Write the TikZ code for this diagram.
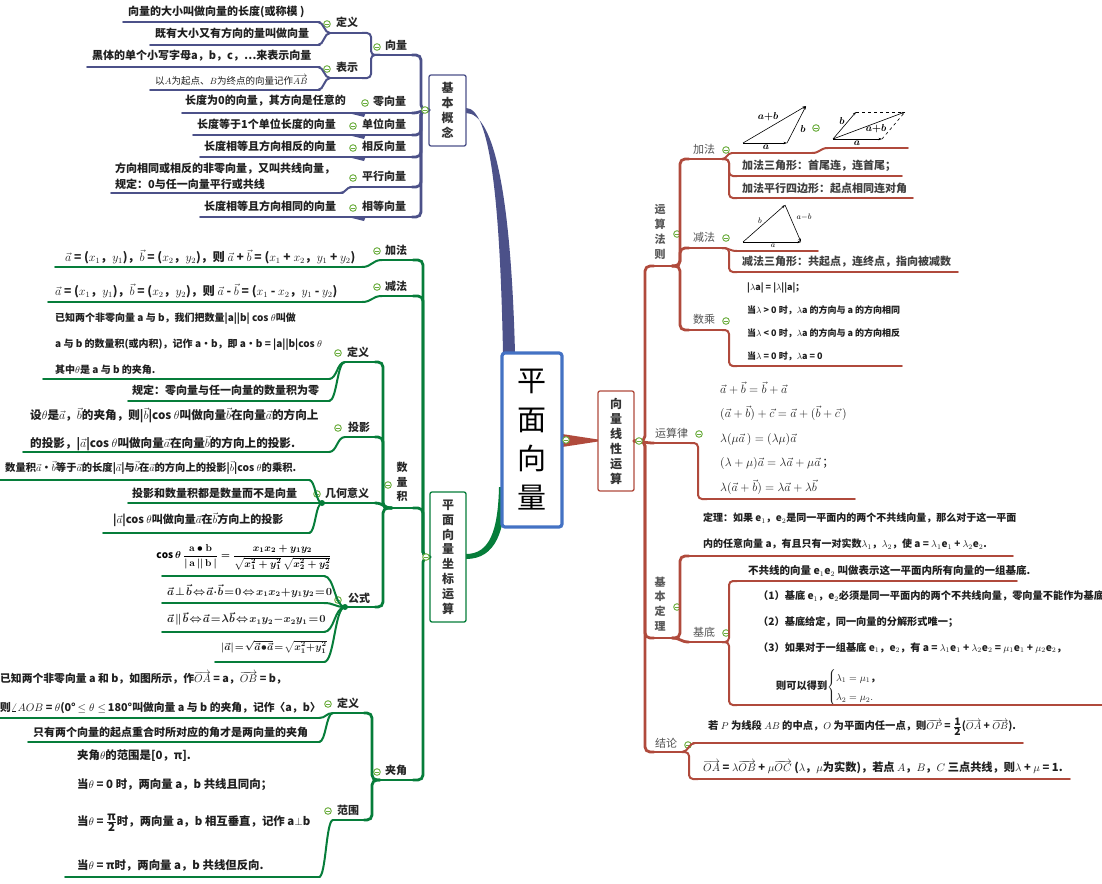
\documentclass[tikz,border=0pt]{standalone}
\usepackage{amsmath}
\usepackage{fontspec}
\setmainfont{Noto Sans CJK SC}
\usetikzlibrary{arrows.meta}
\definecolor{nv}{RGB}{76,81,137}
\definecolor{rd}{RGB}{176,74,60}
\definecolor{gn}{RGB}{6,125,58}
\definecolor{bl}{RGB}{68,114,196}
\definecolor{ccg}{RGB}{104,172,58}
\newcommand\myfs[1]{\fontsize{#1}{#1}\selectfont}
\newcommand\lk[6][]{\draw[#1] (#2,#3) -- (#4,#3) -- (#4,#6) -- (#5,#6);}
\newcommand\sk[5][]{\pgfmathsetmacro\skm{(#2+#4)/2}\draw[#1] (#2,#3) .. controls (\skm,#3) and (\skm,#5) .. (#4,#5);}
\newcommand\myva{\vec{a}}
\newcommand\myvb{\vec{b}}
\newcommand\tightmath{\thickmuskip=1.5mu\medmuskip=0.5mu}
\begin{document}
\begin{tikzpicture}[x=1pt,y=-1pt,
 tx/.style={anchor=west, inner sep=0pt, font=\bfseries\myfs{11}, text=black!88},
 lbl/.style={tx, text=black!85},
 rlbl/.style={anchor=west, inner sep=0pt, font=\myfs{11}, text=black!68},
 ul/.style={line width=1.7, line cap=round},
 trk/.style={line width=2.8, rounded corners=5, line cap=round},
 lf/.style={line width=2.0, rounded corners=4, line cap=round},
 vbox/.style={draw, fill=white, line width=1.3, rounded corners=2, inner sep=0pt, align=center, font=\bfseries\fontsize{12}{15}\selectfont, text=black!80},
 vlab/.style={inner sep=0pt, align=center, font=\bfseries\fontsize{11}{14.8}\selectfont},
 vecl/.style={line width=0.6, -{Stealth[length=3.5pt,width=2.4pt]}},
 fml/.style={tx, font=\myfs{10.5}\boldmath\tightmath},
 cc/.pic={\draw[line width=0.9, draw=ccg, fill=white] (0,0) circle (3.3); \draw[line width=0.9, ccg] (-1.7,0) -- (1.7,0);}
]
\useasboundingbox (0,0) rectangle (1102,883);
\fill[white] (0,0) rectangle (1102,883);

% ================= main connectors =================
\fill[nv] (466,108) .. controls (490,108) and (500,200) .. (503,353) -- (515,353) .. controls (511,200) and (495,113) .. (466,113) -- cycle;
\fill[gn] (499,487) .. controls (498,530) and (490,554) .. (466,554) -- (466,559) .. controls (496,559) and (506,530) .. (505,487) -- cycle;
\fill[rd] (562,434) -- (598,439.5) -- (598,441.5) -- (562,447) -- cycle;

\node[draw=bl, line width=3.2, rounded corners=3, fill=white, minimum width=60pt, minimum height=174pt, inner sep=0pt, align=center, font=\fontsize{29}{39}\selectfont] (root) at (532,440) {平\\面\\向\\量};
\pic at (566,440) {cc};

% ================= navy: 基本概念 =================
\node[vbox, draw=nv, minimum width=37pt, minimum height=71pt] (jb) at (447.5,110.5) {基\\本\\概\\念};
\foreach \y in {55,135,157,187,217} {\lk[nv,trk]{429}{110}{421}{412}{\y}}
\draw[nv,trk] (429,110) .. controls (420,110) and (421,113) .. (412,113);
\pic at (425,110) {cc};

\draw[nv,ul] (380,55) -- (415,55);
\node[lbl] (xl) at (385,45) {向量}; \pic at (377,47) {cc};
\lk[nv,lf]{380}{55}{371}{362}{33}
\lk[nv,lf]{380}{55}{371}{362}{78}
\draw[nv,ul] (330,33) -- (363,33);
\draw[nv,ul] (330,78) -- (363,78);
\node[lbl] (dy1) at (336,22) {定义}; \pic at (327,24) {cc};
\node[lbl] (bs) at (336,67) {表示}; \pic at (327,69) {cc};
\sk[nv,lf]{330}{33}{318}{22}
\sk[nv,lf]{330}{33}{318}{45}
\sk[nv,lf]{330}{78}{318}{67}
\sk[nv,lf]{330}{78}{318}{90}
\node[tx] (d1) at (128,12) {向量的大小叫做向量的长度(或称模 )};
\draw[nv,ul] (123,22) -- (320,22);
\node[tx] (d2) at (155,33) {既有大小又有方向的量叫做向量};
\draw[nv,ul] (150,45) -- (320,45);
\node[tx] (b1) at (92,56) {黑体的单个小写字母a，b，c，…来表示向量};
\draw[nv,ul] (87,67) -- (320,67);
\node[tx, font=\myfs{9.5}] (b2) at (155,80) {以$A$为起点、$B$为终点的向量记作$\overrightarrow{AB}$};
\draw[nv,ul] (150,90) -- (320,90);

\node[lbl] (lxl) at (373,101) {零向量}; \pic at (365,103) {cc};
\node[tx] (l1) at (185,101) {长度为0的向量，其方向是任意的};
\draw[nv,ul] (182,113) -- (415,113);
\node[lbl] (dwxl) at (362,124) {单位向量}; \pic at (353,126) {cc};
\node[tx] (u1) at (197,124) {长度等于1个单位长度的向量};
\draw[nv,ul] (193,135) -- (415,135);
\node[lbl] (xfxl) at (362,146) {相反向量}; \pic at (353,148) {cc};
\node[tx] (f1) at (204,146) {长度相等且方向相反的向量};
\draw[nv,ul] (200,157) -- (415,157);
\node[lbl] (pxxl) at (362,176) {平行向量}; \pic at (353,178) {cc};
\node[tx, align=left, font=\bfseries\fontsize{11}{16}\selectfont] (p1) at (115,176) {方向相同或相反的非零向量，又叫共线向量，\\规定：0与任一向量平行或共线};
\draw[nv,ul] (350,187) -- (415,187);
\draw[nv,ul] (111,193) -- (343,193);
\sk[nv,lf]{352}{187}{340}{193}
\node[lbl] (xdxl) at (362,206) {相等向量}; \pic at (353,208) {cc};
\node[tx] (e1) at (204,206) {长度相等且方向相同的向量};
\draw[nv,ul] (200,217) -- (415,217);
\foreach \y in {113,135,157,217} {\fill[nv] (348,\y) -- (366,\y-1) -- (364,\y+4) -- cycle;}

% ================= green: 平面向量坐标运算 =================
\node[vbox, draw=gn, minimum width=36pt, minimum height=130pt, font=\bfseries\fontsize{12}{14.8}\selectfont] (zb) at (448,557) {平\\面\\向\\量\\坐\\标\\运\\算};
\foreach \y in {260,296,508,780} {\lk[gn,trk]{430}{557}{423}{413}{\y}}
\pic at (426,557) {cc};

\draw[gn,ul] (382,260) -- (415,260);
\node[lbl] (gjf) at (385,250) {加法}; \pic at (377,251) {cc};
\sk[gn,lf]{382}{260}{362}{267}
\node[tx, font=\bfseries\myfs{12}] (gjf1) at (65,257) {$\myva$ = ($x_1$，$y_1$)，$\myvb$ = ($x_2$，$y_2$)，则 $\myva$ + $\myvb$ = ($x_1$ + $x_2$，$y_1$ + $y_2$)};
\draw[gn,ul] (55,267) -- (364,267);

\draw[gn,ul] (382,296) -- (415,296);
\node[lbl] (gjnf) at (385,286) {减法}; \pic at (377,287) {cc};
\sk[gn,lf]{382}{296}{362}{302}
\node[tx, font=\bfseries\myfs{12}] (gjnf1) at (55,291) {$\myva$ = ($x_1$，$y_1$)，$\myvb$ = ($x_2$，$y_2$)，则 $\myva$ - $\myvb$ = ($x_1$ - $x_2$，$y_1$ - $y_2$)};
\draw[gn,ul] (48,302) -- (364,302);

% 数量积
\draw[gn,ul] (392,508) -- (415,508);
\node[vlab, text=black!85] (slj) at (402,482) {数\\量\\积}; \pic at (388,485) {cc};
\foreach \y in {362,437,607} {\lk[gn,trk]{392}{508}{383}{375}{\y}}
\sk[gn,trk]{392}{508}{375}{503}

\draw[gn,ul] (345,362) -- (378,362);
\node[lbl] (sdy) at (347,352) {定义}; \pic at (338,353) {cc};
\sk[gn,lf]{345}{362}{329}{379}
\sk[gn,lf]{345}{362}{329}{401}
\node[tx, align=left, font=\bfseries\fontsize{10}{26}\selectfont] (sdy1) at (55,344) {已知两个非零向量 a 与 b，我们把数量|a||b| cos $\theta$叫做\\a 与 b 的数量积(或内积)，记作 a•b，即 a•b = |a||b|cos $\theta$\\其中$\theta$是 a 与 b 的夹角.};
\draw[gn,ul] (43,379) -- (330,379);
\node[tx] (sdy2) at (132,390) {规定：零向量与任一向量的数量积为零};
\draw[gn,ul] (128,401) -- (330,401);

\draw[gn,ul] (345,437) -- (378,437);
\node[lbl] (sty) at (348,427) {投影}; \pic at (338,428) {cc};
\sk[gn,lf]{345}{437}{329}{452}
\node[tx, align=left, font=\bfseries\fontsize{11.6}{28}\selectfont] (sty1) at (30,429) {设$\theta$是$\myva$，$\myvb$的夹角，则|$\myvb$|cos $\theta$叫做向量$\myvb$在向量$\myva$的方向上\\的投影，|$\myva$|cos $\theta$叫做向量$\myva$在向量$\myvb$的方向上的投影.};
\draw[gn,ul] (23,452) -- (330,452);

\draw[gn,ul] (322,503) -- (378,503);
\node[lbl] (sjh) at (325,493) {几何意义}; \pic at (317,494) {cc};
\fill[gn] (322,503) circle (3);
\sk[gn,lf]{322}{503}{309}{480}
\sk[gn,lf]{322}{503}{309}{533}
\node[tx, font=\bfseries\myfs{10.3}] (sjh1) at (5,468) {数量积$\myva$•$\myvb$等于$\myva$的长度|$\myva$|与$\myvb$在$\myva$的方向上的投影|$\myvb$|cos $\theta$的乘积.};
\draw[gn,ul] (0,480) -- (310,480);
\node[tx] (sjh2) at (132,493) {投影和数量积都是数量而不是向量};
\draw[gn,ul] (128,503) -- (322,503);
\node[tx] (sjh3) at (113,520) {|$\myva$|cos $\theta$叫做向量$\myva$在$\myvb$方向上的投影};
\draw[gn,ul] (103,533) -- (310,533);

\draw[gn,ul] (345,607) -- (378,607);
\node[lbl] (sgs) at (348,598) {公式}; \pic at (338,600) {cc};
\fill[gn] (345,607) circle (3);
\foreach \y in {576,603,632,662} {\sk[gn,lf]{345}{607}{324}{\y}}
\node[inner sep=0pt, font=\myfs{10}\boldmath] (sgs1) at (244,557) {$\cos\theta\,\dfrac{\mathbf{a}\bullet\mathbf{b}}{|\,\mathbf{a}\,||\,\mathbf{b}\,|}=\dfrac{x_1x_2+y_1y_2}{\sqrt{x_1^2+y_1^2}\,\sqrt{x_2^2+y_2^2}}$};
\draw[gn,ul] (162,576) -- (325,576);
\node[fml] (sgs2) at (167,591) {$\myva\perp\myvb\Leftrightarrow\myva\cdot\myvb=0\Leftrightarrow x_1x_2+y_1y_2=0$};
\draw[gn,ul] (162,603) -- (325,603);
\node[fml] (sgs3) at (167,619) {$\myva\parallel\myvb\Leftrightarrow\myva=\lambda\myvb\Leftrightarrow x_1y_2-x_2y_1=0$};
\draw[gn,ul] (162,632) -- (325,632);
\node[fml, font=\myfs{10}\boldmath\tightmath] (sgs4) at (221,647) {$|\myva|=\sqrt{\myva\bullet\myva}=\sqrt{x_1^2+y_1^2}$};
\draw[gn,ul] (215,662) -- (325,662);

% 夹角
\draw[gn,ul] (380,780) -- (415,780);
\node[lbl] (gja) at (385,770) {夹角}; \pic at (377,772) {cc};
\lk[gn,trk]{380}{780}{372}{364}{713}
\lk[gn,trk]{380}{780}{372}{364}{820}
\draw[gn,ul] (333,713) -- (368,713);
\node[lbl] (jdy) at (337,703) {定义}; \pic at (328,704) {cc};
\draw[gn,ul] (333,820) -- (368,820);
\node[lbl] (jfw) at (337,810) {范围}; \pic at (328,811) {cc};
\sk[gn,lf]{333}{713}{319}{718}
\sk[gn,lf]{333}{713}{319}{742}
\sk[gn,lf]{333}{820}{319}{877}
\node[tx, align=left, font=\bfseries\fontsize{10.8}{29}\selectfont] (jdy1) at (0,692.5) {已知两个非零向量 a 和 b，如图所示，作$\overrightarrow{OA}$ = a，$\overrightarrow{OB}$ = b，\\则$\angle AOB$ = $\theta$(0°$\,\le\theta\le\,$180°叫做向量 a 与 b 的夹角，记作〈a，b〉};
\draw[gn,ul] (0,718) -- (320,718);
\node[tx] (jdy2) at (33,732) {只有两个向量的起点重合时所对应的角才是两向量的夹角};
\draw[gn,ul] (28,742) -- (320,742);
\node[tx, font=\bfseries\myfs{11.4}] (jfw1) at (77,756) {夹角$\theta$的范围是[0，π].};
\node[tx, font=\bfseries\myfs{11.4}] (jfw2) at (77,785) {当$\theta$ = 0 时，两向量 a，b 共线且同向；};
\node[tx, font=\bfseries\myfs{11.4}] (jfw3) at (77,823) {当$\theta$ = $\frac{\mbox{π}}{\mbox{2}}$时，两向量 a，b 相互垂直，记作 a$\perp$b};
\node[tx, font=\bfseries\myfs{11.4}] (jfw4) at (77,865) {当$\theta$ = π时，两向量 a，b 共线但反向.};
\draw[gn,ul] (65,877) -- (320,877);

% ================= red: 向量线性运算 =================
\node[vbox, draw=rd, minimum width=36pt, minimum height=100pt] (xx) at (616,441) {向\\量\\线\\性\\运\\算};
\foreach \y in {266,638,752} {\lk[rd,trk]{634}{441}{645}{654}{\y}}
\sk[rd,trk]{634}{441}{654}{443}
\pic at (639,441) {cc};

% 运算法则
\draw[rd,ul] (650,266) -- (672,266);
\node[vlab, text=black!65] (ysfz) at (660,232) {运\\算\\法\\则}; \pic at (677,234) {cc};
\foreach \y in {159,248,330} {\lk[rd,trk]{672}{266}{680}{689}{\y}}

\draw[rd,ul] (687,159) -- (722,159);
\node[rlbl] (rjf) at (693,149) {加法}; \pic at (726,150) {cc};
\sk[rd,lf]{722}{159}{732}{153}
\draw[rd,ul] (732,153) -- (812,153);
\sk[rd,lf]{812}{153}{828}{148}
\draw[rd,ul] (828,148) -- (908,148);
\lk[rd,lf]{722}{159}{729}{737}{176}
\lk[rd,lf]{722}{159}{729}{737}{198}
% addition pictures
\draw[vecl] (743,143) -- (787,143);
\draw[vecl] (787,143) -- (806,106);
\draw[vecl] (743,143) -- (806,106);
\node[inner sep=0pt, font=\myfs{10}\boldmath] (ab1) at (768,117) {$a{+}b$};
\node[inner sep=0pt, font=\myfs{10}\boldmath] (b1l) at (803,129) {$b$};
\node[inner sep=0pt, font=\myfs{10}\boldmath] (a1l) at (766,147) {$a$};
\pic at (816,128) {cc};
\draw[vecl] (833,139) -- (882,139);
\draw[vecl] (833,139) -- (856,112);
\draw[vecl] (833,139) -- (905,112);
\draw[line width=0.6, dashed] (856,112) -- (905,112);
\draw[line width=0.6, dashed] (882,139) -- (905,112);
\node[inner sep=0pt, font=\myfs{10}\boldmath] (b2l) at (842,121) {$b$};
\node[inner sep=0pt, font=\myfs{10}\boldmath] (ab2) at (876,129) {$a{+}b$};
\node[inner sep=0pt, font=\myfs{10}\boldmath] (a2l) at (857,143) {$a$};
\node[tx, text=black!75] (rjf1) at (742,166) {加法三角形：首尾连，连首尾；};
\draw[rd,ul] (737,176) -- (902,176);
\node[tx, text=black!75] (rjf2) at (742,188) {加法平行四边形：起点相同连对角};
\draw[rd,ul] (737,198) -- (913,198);

\draw[rd,ul] (687,248) -- (722,248);
\node[rlbl] (rjnf) at (693,237) {减法}; \pic at (726,238) {cc};
\sk[rd,lf]{722}{248}{737}{251}
\draw[rd,ul] (737,251) -- (818,251);
\lk[rd,lf]{722}{248}{729}{737}{272}
\draw[vecl] (743,242) -- (801,242);
\draw[vecl] (743,242) -- (785,205);
\draw[vecl] (785,205) -- (801,242);
\node[inner sep=0pt, font=\myfs{8}] (b3l) at (760,221) {$b$};
\node[inner sep=0pt, font=\myfs{8}] (amb) at (804,217) {$a{-}b$};
\node[inner sep=0pt, font=\myfs{8}] (a3l) at (773,246) {$a$};
\node[tx, text=black!75] (rjnf1) at (742,262) {减法三角形：共起点，连终点，指向被减数};
\draw[rd,ul] (737,272) -- (958,272);

\draw[rd,ul] (687,330) -- (722,330);
\node[rlbl] (rsc) at (693,319) {数乘}; \pic at (726,321) {cc};
\lk[rd,lf]{722}{330}{729}{737}{366}
\node[tx, align=left, font=\bfseries\fontsize{9}{23}\selectfont] (rsc1) at (747,321.5) {|$\lambda$a| = |$\lambda$||a|；\\当$\lambda$ > 0 时，$\lambda$a 的方向与 a 的方向相同\\当$\lambda$ < 0 时，$\lambda$a 的方向与 a 的方向相反\\当$\lambda$ = 0 时，$\lambda$a = 0};
\draw[rd,ul] (732,366) -- (902,366);

% 运算律
\draw[rd,ul] (650,443) -- (690,443);
\node[rlbl] (rysl) at (655,433) {运算律}; \pic at (699,434) {cc};
\lk[rd,lf]{690}{443}{698}{707}{499}
\node[tx, align=left, font=\fontsize{11.5}{24.5}\selectfont] (rysl1) at (720,438) {$\myva+\myvb=\myvb+\myva$\\$(\myva+\myvb)+\vec{c}=\myva+(\myvb+\vec{c}\,)$\\$\lambda(\mu\myva\,)=(\lambda\mu)\myva$\\$(\lambda+\mu)\myva=\lambda\myva+\mu\myva$\,；\\$\lambda(\myva+\myvb)=\lambda\myva+\lambda\myvb$};
\draw[rd,ul] (705,499) -- (855,499);

% 基本定理
\draw[rd,ul] (650,638) -- (672,638);
\node[vlab, text=black!65] (rjbdl) at (660,604) {基\\本\\定\\理}; \pic at (677,607) {cc};
\lk[rd,trk]{672}{638}{680}{689}{556}
\sk[rd,trk]{672}{638}{689}{642}
\node[tx, align=left, font=\bfseries\fontsize{10}{26}\selectfont] (rdl) at (703,531) {定理：如果 e$_1$，e$_2$是同一平面内的两个不共线向量，那么对于这一平面\\内的任意向量 a，有且只有一对实数$\lambda_1$，$\lambda_2$，使 a = $\lambda_1$e$_1$ + $\lambda_2$e$_2$.};
\draw[rd,ul] (687,556) -- (1013,556);
\draw[rd,ul] (687,642) -- (722,642);
\node[rlbl] (rjd) at (693,632) {基底}; \pic at (726,633) {cc};
\lk[rd,lf]{722}{642}{729}{737}{581}
\lk[rd,lf]{722}{642}{729}{737}{705}
\node[tx, font=\bfseries\myfs{10.5}] (rjd1) at (748,571) {不共线的向量 e$_1$e$_2$ 叫做表示这一平面内所有向量的一组基底.};
\draw[rd,ul] (737,581) -- (1017,581);
\node[tx, font=\bfseries\myfs{10.2}] (rjd2) at (758,596) {（1）基底 e$_1$，e$_2$必须是同一平面内的两个不共线向量，零向量不能作为基底};
\node[tx, font=\bfseries\myfs{10.2}] (rjd3) at (758,622) {（2）基底给定，同一向量的分解形式唯一；};
\node[tx, font=\bfseries\myfs{10.2}] (rjd4) at (758,648) {（3）如果对于一组基底 e$_1$，e$_2$，有 a = $\lambda_1$e$_1$ + $\lambda_2$e$_2$ = $\mu_1$e$_1$ + $\mu_2$e$_2$，};
\node[tx, font=\bfseries\myfs{10.2}] (rjd5) at (776,687) {则可以得到\def\arraystretch{1.9}$\left\{\begin{array}{@{}l}\lambda_1=\mu_1\mbox{，}\\ \lambda_2=\mu_2.\end{array}\right.$};
\draw[rd,ul] (735,705) -- (1102,705);

% 结论
\draw[rd,ul] (650,752) -- (682,752);
\node[rlbl] (rjl) at (655,743) {结论}; \pic at (688,745) {cc};
\sk[rd,lf]{682}{752}{695}{743}
\lk[rd,lf]{682}{752}{689}{698}{779}
\node[tx, font=\bfseries\myfs{10.3}] (rjl1) at (708,727) {若 $P$ 为线段 $AB$ 的中点，$O$ 为平面内任一点，则$\overrightarrow{OP}$ = $\frac{\mbox{1}}{\mbox{2}}$($\overrightarrow{OA}$ + $\overrightarrow{OB}$).};
\draw[rd,ul] (693,743) -- (1023,743);
\node[tx, font=\bfseries\myfs{11.2}] (rjl2) at (703,767) {$\overrightarrow{OA}$ = $\lambda\overrightarrow{OB}$ + $\mu\overrightarrow{OC}$ ($\lambda$，$\mu$为实数)，若点 $A$，$B$，$C$ 三点共线，则$\lambda$ + $\mu$ = 1.};
\draw[rd,ul] (697,779) -- (1070,779);
\end{tikzpicture}
\end{document}
